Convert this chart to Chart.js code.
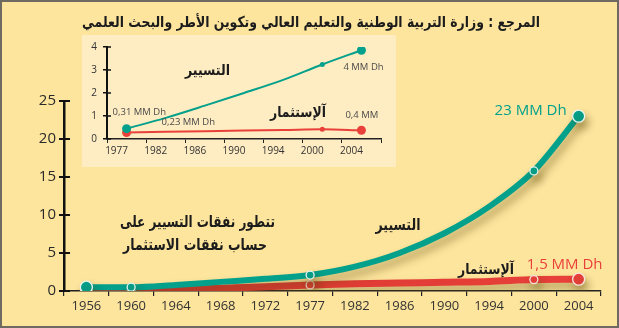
<!DOCTYPE html>
<html>
<head>
<meta charset="utf-8">
<script src="https://cdn.jsdelivr.net/npm/chart.js@4.4.1/dist/chart.umd.min.js"></script>
<style>
  html, body { margin: 0; padding: 0; background: #fde59d; }
  #wrap { position: relative; width: 619px; height: 328px; background: #fde59d; overflow: hidden; }
  #main { position: absolute; left: 0; top: 0; }
  #insetBox { position: absolute; left: 82px; top: 35px; width: 314px; height: 132px; background: #feecc2; }
  #frame { position: absolute; left: 0; top: 0; width: 619px; height: 328px; box-sizing: border-box;
           border: 2px solid #6e6a60; pointer-events: none; }
</style>
</head>
<body>
<div id="wrap">
  <canvas id="main" width="619" height="328"></canvas>
  <div id="insetBox"><canvas id="inset" width="314" height="132"></canvas></div>
  <div id="frame"></div>
</div>
<script>
// ============================
// DATA
// ============================

// main chart (milliards de dirhams)
const years = ["1956", "1960", "1964", "1968", "1972", "1977", "1982", "1986", "1990", "1994", "2000", "2004"];
const fonctionnement = [0.5, 0.5, 0.8, 1.2, 1.6, 2.1, 3.2, 5.0, 7.6, 11.1, 15.8, 23];
const investissement = [0, 0.05, 0.2, 0.35, 0.55, 0.8, 0.95, 1.05, 1.15, 1.25, 1.5, 1.55];
const markedYears = ["1960", "1977", "2000"];
const endYears = ["1956", "2004"];

// inset chart
const insetYears = ["1977", "1982", "1986", "1990", "1994", "2000", "2004"];
const insetFonct = [0.45, 0.92, 1.45, 2.0, 2.57, 3.24, 3.86];
const insetInvest = [0.28, 0.31, 0.34, 0.37, 0.39, 0.42, 0.38];
const insetMarked = ["2000"];
const insetEnds = ["1977", "2004"];

const TITLE = "المرجع : وزارة التربية الوطنية والتعليم العالي وتكوين الأطر والبحث العلمي";
const LBL_FONCT = "التسيير";
const LBL_INVEST = "آلإستثمار";
const NOTE_1 = "تتطور نفقات التسيير على";
const NOTE_2 = "حساب نفقات الاستثمار";

const TEAL = "#03a08b";
const RED = "#e9403a";
const INK = "#1c1c1c";
const ARABIC = "'DejaVu Sans', sans-serif";
const LATIN = "'Open Sans', sans-serif";

// ============================
// HELPERS
// ============================

function drawText(ctx, text, x, y, font, color, align, dir) {
  ctx.save();
  ctx.font = font;
  ctx.fillStyle = color;
  ctx.textAlign = align || "center";
  ctx.textBaseline = "middle";
  ctx.direction = dir || "ltr";
  ctx.fillText(text, x, y);
  ctx.restore();
}

// arabic text, squeezed horizontally to a given width (the original face is narrower)
function drawArabic(ctx, text, cx, cy, width, size) {
  ctx.save();
  ctx.font = "bold " + size + "px " + ARABIC;
  ctx.direction = "rtl";
  ctx.textAlign = "center";
  ctx.textBaseline = "middle";
  ctx.fillStyle = INK;
  const w = ctx.measureText(text).width;
  ctx.translate(cx, cy);
  ctx.scale(width / w, 1);
  ctx.fillText(text, 0, 0);
  ctx.restore();
}

// short ticks on the inner side of the y axis
const innerTicksPlugin = {
  id: "innerTicks",
  afterDraw(chart, args, opts) {
    const y = chart.scales.y;
    const ctx = chart.ctx;
    const x0 = chart.chartArea.left;
    ctx.save();
    ctx.strokeStyle = "#111";
    ctx.lineWidth = opts.width || 2;
    y.ticks.forEach(t => {
      const py = y.getPixelForValue(t.value);
      ctx.beginPath();
      ctx.moveTo(x0, py);
      ctx.lineTo(x0 + (opts.len || 6), py);
      ctx.stroke();
    });
    ctx.restore();
  }
};

const shadowPlugin = {
  id: "lineShadow",
  beforeDatasetsDraw(chart) {
    const ctx = chart.ctx;
    ctx.save();
    ctx.shadowColor = "rgba(90, 70, 10, 0.45)";
    ctx.shadowBlur = 9;
    ctx.shadowOffsetX = 3;
    ctx.shadowOffsetY = 6;
  },
  afterDatasetsDraw(chart) {
    chart.ctx.restore();
  }
};

// ============================
// MAIN CHART
// ============================

function mainRadius(ctx) {
  const yr = years[ctx.dataIndex];
  if (endYears.includes(yr)) return 6;
  if (markedYears.includes(yr)) return 4;
  return 0;
}

function redGradient(ctx) {
  const area = ctx.chart.chartArea;
  if (!area) return RED;
  const g = ctx.chart.ctx.createLinearGradient(area.left, 0, area.right, 0);
  g.addColorStop(0, "#b8302a");
  g.addColorStop(0.35, "#dc3a33");
  g.addColorStop(1, RED);
  return g;
}

const mainLabels = {
  id: "mainLabels",
  afterDatasetsDraw(chart) {
    const ctx = chart.ctx;
    const x = chart.scales.x;
    const y = chart.scales.y;
    const last = years.length - 1;
    const xEnd = x.getPixelForValue(last);

    drawArabic(ctx, TITLE, 311, 23, 458, 15);

    drawText(ctx, "23 MM Dh", xEnd - 12, y.getPixelForValue(fonctionnement[last]) - 5,
      "15px " + LATIN, TEAL, "right");
    drawText(ctx, "1,5 MM Dh", xEnd - 14, y.getPixelForValue(investissement[last]) - 14,
      "15px " + LATIN, RED, "center");

    drawArabic(ctx, LBL_INVEST, 486, 270, 56, 15);
    drawArabic(ctx, LBL_FONCT, 398, 226, 45, 16);
    drawArabic(ctx, NOTE_1, 197.5, 223, 155, 16);
    drawArabic(ctx, NOTE_2, 195, 246, 144, 16);
  }
};

new Chart(document.getElementById("main"), {
  type: "line",
  data: {
    labels: years,
    datasets: [
      {
        label: "fonctionnement",
        data: fonctionnement,
        borderColor: TEAL,
        borderWidth: 6,
        cubicInterpolationMode: "monotone",
        pointRadius: mainRadius,
        pointBackgroundColor: TEAL,
        pointBorderColor: "#e6f3ee",
        pointBorderWidth: 1.3,
        fill: false
      },
      {
        label: "investissement",
        data: investissement,
        borderColor: redGradient,
        borderWidth: 7,
        cubicInterpolationMode: "monotone",
        pointRadius: mainRadius,
        pointBackgroundColor: RED,
        pointBorderColor: "#f6e3dc",
        pointBorderWidth: 1.3,
        fill: false
      }
    ]
  },
  options: {
    responsive: false,
    animation: false,
    events: [],
    layout: { padding: { top: 101, right: 18, left: 0, bottom: 0 } },
    plugins: {
      legend: { display: false },
      tooltip: { enabled: false },
      innerTicks: { len: 6, width: 2 }
    },
    scales: {
      x: {
        type: "category",
        offset: true,
        grid: { offset: true, drawOnChartArea: false, tickLength: 5, color: "#222", lineWidth: 1.2 },
        border: { color: "#222", width: 1.5 },
        ticks: { color: "#333", font: { family: LATIN, size: 13 }, padding: 2, autoSkip: false, maxRotation: 0 },
        afterFit: s => { s.height = 37; }
      },
      y: {
        min: 0,
        max: 25,
        ticks: { stepSize: 5, color: "#2a2a2a", font: { family: LATIN, size: 15 }, padding: 3 },
        grid: { drawOnChartArea: false, tickLength: 5, color: "#111", lineWidth: 2 },
        border: { color: "#111", width: 2.5 },
        afterFit: s => { s.width = 64; }
      }
    }
  },
  plugins: [shadowPlugin, innerTicksPlugin, mainLabels]
});

// ============================
// INSET CHART
// ============================

function insetRadius(ctx) {
  const yr = insetYears[ctx.dataIndex];
  if (insetEnds.includes(yr)) return 4.5;
  if (insetMarked.includes(yr)) return 2.5;
  return 0;
}

const insetLabels = {
  id: "insetLabels",
  afterDatasetsDraw(chart) {
    const ctx = chart.ctx;
    const x = chart.scales.x;
    const y = chart.scales.y;
    const last = insetYears.length - 1;
    const small = "9.5px " + LATIN;

    drawText(ctx, "0,31 MM Dh", x.getPixelForValue(0) - 14, y.getPixelForValue(insetFonct[0]) - 16, small, "#4a4a4a", "left");
    drawText(ctx, "0,23 MM Dh", x.getPixelForValue(0) + 35, y.getPixelForValue(insetInvest[0]) - 10, small, "#4a4a4a", "left");
    drawText(ctx, "4 MM Dh", x.getPixelForValue(last) - 18, y.getPixelForValue(insetFonct[last]) + 17, small, "#4a4a4a", "left");
    drawText(ctx, "0,4 MM", x.getPixelForValue(last) - 16, y.getPixelForValue(insetInvest[last]) - 15, small, "#4a4a4a", "left");

    drawArabic(ctx, LBL_FONCT, 125.5, 36, 45, 15);
    drawArabic(ctx, LBL_INVEST, 216, 78, 56, 15);
  }
};

new Chart(document.getElementById("inset"), {
  type: "line",
  data: {
    labels: insetYears,
    datasets: [
      {
        data: insetFonct,
        borderColor: TEAL,
        borderWidth: 2,
        cubicInterpolationMode: "monotone",
        pointRadius: insetRadius,
        pointBackgroundColor: TEAL,
        pointBorderWidth: 0
      },
      {
        data: insetInvest,
        borderColor: RED,
        borderWidth: 2,
        cubicInterpolationMode: "monotone",
        pointRadius: insetRadius,
        pointBackgroundColor: RED,
        pointBorderWidth: 0
      }
    ]
  },
  options: {
    responsive: false,
    animation: false,
    events: [],
    layout: { padding: { top: 9, right: 15, left: 0, bottom: 0 } },
    plugins: {
      legend: { display: false },
      tooltip: { enabled: false },
      innerTicks: { len: 4, width: 1.5 }
    },
    scales: {
      x: {
        type: "category",
        offset: true,
        grid: { offset: true, drawOnChartArea: false, tickLength: 4, color: "#222", lineWidth: 1 },
        border: { color: "#222", width: 1.5 },
        ticks: { color: "#333", font: { family: LATIN, size: 10 }, padding: 2, labelOffset: -10, autoSkip: false, maxRotation: 0 },
        afterFit: s => { s.height = 28; }
      },
      y: {
        min: 0,
        max: 4,
        ticks: { stepSize: 1, color: "#333", font: { family: LATIN, size: 10 }, padding: 6 },
        grid: { drawOnChartArea: false, tickLength: 4, color: "#111", lineWidth: 1.5 },
        border: { color: "#111", width: 2 },
        afterFit: s => { s.width = 25; }
      }
    }
  },
  plugins: [innerTicksPlugin, insetLabels]
});
</script>
</body>
</html>
